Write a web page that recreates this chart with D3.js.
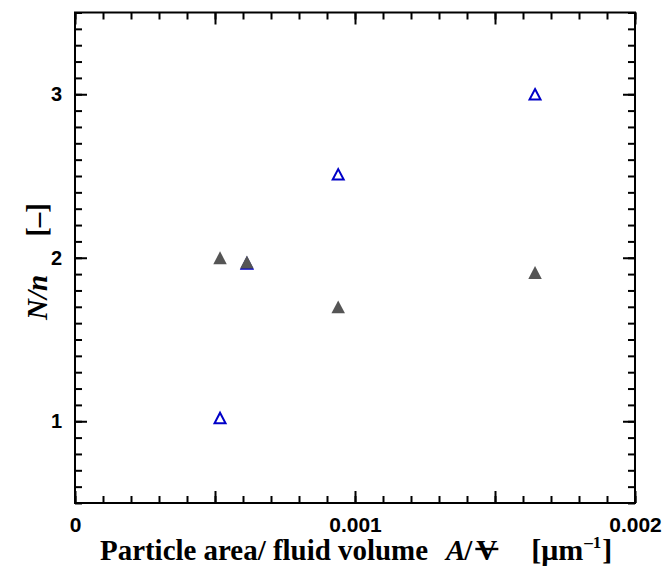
<!DOCTYPE html>
<html>
<head>
<meta charset="utf-8">
<script src="https://cdn.jsdelivr.net/npm/d3@7"></script>
<style>
  body { margin: 0; background: #fff; }
</style>
</head>
<body>
<div id="chart"></div>
<script>
/* data */
var areaOpen = [0.000518, 0.000614, 0.00094, 0.001643]   // open blue triangles
var ratioOpen = [1.02, 1.965, 2.51, 3.0]
var areaFilled = [0.000518, 0.000614, 0.00094, 0.001643] // filled grey triangles
var ratioFilled = [2.0, 1.974, 1.70, 1.91]

var xTickLabels = [0, 0.001, 0.002]
var yTickLabels = [1, 2, 3]

var W = 667, H = 572
var margin = { left: 75, top: 12.5, right: 32, bottom: 69 }
var plotW = W - margin.left - margin.right
    plotH = H - margin.top - margin.bottom
    sansBold = "'Liberation Sans', Arial, sans-serif"
    serif = "'Liberation Serif', 'Times New Roman', serif"

var x = d3.scaleLinear().domain([0, 0.002]).range([0, plotW])
var y = d3.scaleLinear().domain([0.5, 3.5]).range([plotH, 0])

var svg = d3.select("#chart").append("svg")
  .attr("width", W)
  .attr("height", H)

var g = svg.append("g")
  .attr("transform", "translate(" + margin.left + "," + margin.top + ")")

/* tick values */
var xMinor = d3.range(0, 21).map(function(i) { return i * 0.0001 })
    xMajor = d3.range(0, 5).map(function(i) { return i * 0.0005 })
    yMinor = d3.range(5, 36).map(function(i) { return i / 10 })

function styleAxis(sel) {
  sel.select(".domain").remove()
  sel.selectAll("line").attr("stroke", "#000").attr("stroke-width", 2)
}

/* inward ticks on all four sides */
function addTicks(axisFn, scale, vals, len, tx) {
  g.append("g")
    .attr("transform", tx)
    .call(axisFn(scale).tickValues(vals).tickSize(-len).tickFormat(""))
    .call(styleAxis)
}
addTicks(d3.axisBottom, x, xMinor, 7, "translate(0," + plotH + ")")
addTicks(d3.axisBottom, x, xMajor, 12, "translate(0," + plotH + ")")
addTicks(d3.axisTop, x, xMinor, 7, "translate(0,0)")
addTicks(d3.axisTop, x, xMajor, 12, "translate(0,0)")
addTicks(d3.axisLeft, y, yMinor, 7, "translate(0,0)")
addTicks(d3.axisLeft, y, yTickLabels, 12, "translate(0,0)")
addTicks(d3.axisRight, y, yMinor, 7, "translate(" + plotW + ",0)")
addTicks(d3.axisRight, y, yTickLabels, 12, "translate(" + plotW + ",0)")

/* labels */
var xLab = g.append("g")
  .attr("transform", "translate(0," + plotH + ")")
  .call(d3.axisBottom(x).tickValues(xTickLabels).tickSize(0).tickPadding(14)
    .tickFormat(function(d) { return d === 0 ? "0" : d3.format(".3f")(d) }))
xLab.select(".domain").remove()
xLab.attr("font-size", 21).attr("font-family", sansBold).attr("font-weight", "bold")

var yLab = g.append("g")
  .call(d3.axisLeft(y).tickValues(yTickLabels).tickSize(0).tickPadding(13).tickFormat(d3.format("d")))
yLab.select(".domain").remove()
yLab.attr("font-size", 20).attr("font-family", sansBold).attr("font-weight", "bold")

/* frame */
g.append("rect")
  .attr("width", plotW)
  .attr("height", plotH)
  .attr("fill", "none")
  .attr("stroke", "#000")
  .attr("stroke-width", 2)

/* triangle centred on its bounding box */
function tri(w) {
  var h = w * 0.95
  return "M0," + (-h / 2) + "L" + (w / 2) + "," + (h / 2) + "L" + (-w / 2) + "," + (h / 2) + "Z"
}

g.selectAll(".openTri").data(areaOpen).enter()
  .append("path")
  .attr("class", "openTri")
  .attr("d", tri(11))
  .attr("transform", function(d, i) { return "translate(" + x(d) + "," + y(ratioOpen[i]) + ")" })
  .attr("fill", "none")
  .attr("stroke", "#0000c8")
  .attr("stroke-width", 2)

g.selectAll(".fillTri").data(areaFilled).enter()
  .append("path")
  .attr("class", "fillTri")
  .attr("d", tri(13.5))
  .attr("transform", function(d, i) { return "translate(" + x(d) + "," + y(ratioFilled[i]) + ")" })
  .attr("fill", "#555555")

/* x title, pieces chained one after another */
var titleY = 560
function titlePart(txt, xPos, italic, size, yPos) {
  return svg.append("text")
    .attr("font-family", serif)
    .attr("font-weight", "bold")
    .attr("font-style", italic ? "italic" : "normal")
    .attr("font-size", size || 29)
    .attr("x", xPos)
    .attr("y", yPos || titleY)
    .text(txt)
}
function endOf(t) {
  var b = t.node().getBBox()
  return b.x + b.width
}
var main = titlePart("Particle area/ fluid volume", 100, false)
main.attr("textLength", 328).attr("lengthAdjust", "spacingAndGlyphs")
var aText = titlePart("A", 446, true)
var slash = titlePart("/", endOf(aText) - 1, false)
var vText = titlePart("V", endOf(slash) + 3, false)
var bracket = titlePart("[\u03bcm", endOf(vText) + 34, false, 30)
var sup = titlePart("\u20131", endOf(bracket) + 1, false, 17, titleY - 12)
titlePart("]", endOf(sup) + 1, false, 30)

/* strike through the volume V */
var vBox = vText.node().getBBox()
svg.append("line")
  .attr("x1", vBox.x - 1)
  .attr("x2", vBox.x + vBox.width + 1)
  .attr("y1", 549)
  .attr("y2", 549)
  .attr("stroke", "#000")
  .attr("stroke-width", 2.4)

/* y title */
var yt = svg.append("text")
  .attr("font-family", serif)
  .attr("font-weight", "bold")
  .attr("font-size", 29)
  .attr("transform", "translate(47,320) rotate(-90)")
yt.append("tspan").attr("font-style", "italic").text("N/n")
yt.append("tspan").attr("dx", 38).text("[\u2013]")
</script>
</body>
</html>
